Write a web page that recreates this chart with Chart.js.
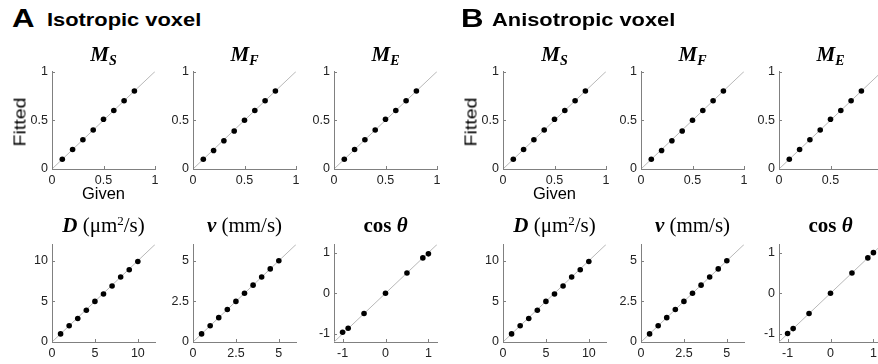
<!DOCTYPE html>
<html>
<head>
<meta charset="utf-8">
<script src="https://cdn.jsdelivr.net/npm/chart.js@4"></script>
<style>
  html, body { margin: 0; padding: 0; background: #fff; overflow: hidden; }
  #page { position: relative; width: 878px; height: 364px; }
  canvas { position: absolute; }
  .lbl { position: absolute; white-space: nowrap; line-height: 1; color: #000; }
  .panel { font-family: "Liberation Sans", Arial, sans-serif; font-weight: bold; transform-origin: 0 50%; }
  .ttl { font-family: "Liberation Serif", "Times New Roman", serif; font-size: 21px; text-align: center; }
  .ttl sub { font-size: 14px; vertical-align: -0.3em; line-height: 0; font-style: italic; font-weight: bold; }
  .ttl sup { font-size: 13px; vertical-align: 0.55em; line-height: 0; }
  .ax { font-family: "Liberation Sans", Arial, sans-serif; font-size: 16.5px; }
</style>
</head>
<body>
<div id="page"></div>
<script>
document.addEventListener('DOMContentLoaded', () => {

  // ------------------------------
  // DATA
  // ------------------------------
  const mGiven = [0.1, 0.2, 0.3, 0.4, 0.5, 0.6, 0.7, 0.8];
  const msFitA = [0.1, 0.2, 0.3, 0.4, 0.51, 0.6, 0.7, 0.8];
  const mfFitA = [0.1, 0.19, 0.29, 0.39, 0.5, 0.6, 0.7, 0.8];
  const meFitA = [0.1, 0.2, 0.3, 0.4, 0.51, 0.6, 0.7, 0.8];
  const msFitB = [0.1, 0.2, 0.3, 0.4, 0.51, 0.6, 0.7, 0.8];
  const mfFitB = [0.1, 0.19, 0.29, 0.39, 0.5, 0.6, 0.7, 0.8];
  const meFitB = [0.1, 0.2, 0.3, 0.4, 0.51, 0.6, 0.7, 0.8];

  const dGiven = [1, 2, 3, 4, 5, 6, 7, 8, 9, 10];
  const dFitA = [1, 2, 2.9, 3.9, 5, 5.9, 6.9, 8, 8.9, 9.9];
  const dFitB = [1, 2, 2.9, 3.9, 5, 5.9, 6.9, 8, 8.9, 9.9];

  const vGiven = [0.5, 1, 1.5, 2, 2.5, 3, 3.5, 4, 4.5, 5];
  const vFitA = [0.5, 1, 1.5, 2, 2.5, 3, 3.5, 4, 4.5, 5];
  const vFitB = [0.5, 1, 1.5, 2, 2.5, 3, 3.5, 4, 4.5, 5];

  const cosGiven = [-1, -0.87, -0.5, 0, 0.5, 0.87, 1];
  const cosFitA = [-0.96, -0.86, -0.5, 0, 0.5, 0.87, 0.97];
  const cosFitB = [-0.99, -0.87, -0.5, 0, 0.5, 0.87, 1];

  // axis ranges and tick labels
  const mRange = [0, 1], mTicks = [0, 0.5, 1];
  const dRange = [0, 12], dTicks = [0, 5, 10];
  const vRange = [0, 6], vTicks = [0, 2.5, 5];
  const cosRange = [-1.2, 1.2], cosTicks = [-1, 0, 1];

  // ------------------------------
  // LAYOUT
  // ------------------------------
  const page = document.getElementById('page');
  const PW = 103, PH = 101;          // plot area size
  const YW = 40, XH = 22, PT = 8, PR = 14;
  const colsA = [52, 193, 334];
  const colsB = [503, 641, 779];
  const rowTop = [68, 241];

  function addLabel(html, cls, style) {
    const el = document.createElement('div');
    el.className = 'lbl ' + cls;
    el.innerHTML = html;
    Object.assign(el.style, style);
    page.appendChild(el);
    return el;
  }

  // inward tick marks, like the original figure
  const innerTicks = {
    id: 'innerTicks',
    afterDraw(chart) {
      const {ctx, chartArea, scales} = chart;
      ctx.save();
      ctx.strokeStyle = '#808080';
      ctx.lineWidth = 1;
      ctx.beginPath();
      scales.x.ticks.forEach(t => {
        const px = Math.round(scales.x.getPixelForValue(t.value)) + 0.5;
        ctx.moveTo(px, chartArea.bottom);
        ctx.lineTo(px, chartArea.bottom - 3);
      });
      scales.y.ticks.forEach(t => {
        const py = Math.round(scales.y.getPixelForValue(t.value)) + 0.5;
        ctx.moveTo(chartArea.left, py);
        ctx.lineTo(chartArea.left + 3, py);
      });
      ctx.stroke();
      ctx.restore();
    }
  };

  function axis(range, ticks, fit) {
    return {
      type: 'linear',
      min: range[0],
      max: range[1],
      grid: { display: true, drawOnChartArea: false, drawTicks: false },
      border: { color: '#808080', width: 1 },
      ticks: {
        color: '#222',
        font: { family: '"Liberation Sans", Arial, sans-serif', size: 12.5 },
        padding: 4,
        maxRotation: 0,
        autoSkip: false,
        callback: v => String(v)
      },
      afterBuildTicks: s => { s.ticks = ticks.map(v => ({ value: v })); },
      afterFit: fit
    };
  }

  function makePlot(left, top, given, fitted, range, ticks) {
    const cv = document.createElement('canvas');
    cv.width = YW + PW + PR;
    cv.height = PT + PH + XH;
    cv.style.left = (left - YW) + 'px';
    cv.style.top = (top - PT) + 'px';
    page.appendChild(cv);

    const pts = given.map((g, i) => ({ x: g, y: fitted[i] }));
    new Chart(cv.getContext('2d'), {
      type: 'scatter',
      data: {
        datasets: [
          {
            label: 'Estimates',
            data: pts,
            backgroundColor: '#000',
            borderWidth: 0,
            pointRadius: 2.8,
            order: 0
          },
          {
            type: 'line',
            label: 'Identity',
            data: [{ x: range[0], y: range[0] }, { x: range[1], y: range[1] }],
            borderColor: '#b8b8b8',
            borderWidth: 1,
            pointRadius: 0,
            order: 1
          }
        ]
      },
      options: {
        responsive: false,
        animation: false,
        devicePixelRatio: 1,
        layout: { padding: { top: PT, right: PR, left: 0, bottom: 0 } },
        plugins: { legend: { display: false }, tooltip: { enabled: false } },
        scales: {
          x: axis(range, ticks, s => { s.height = XH; }),
          y: axis(range, ticks, s => { s.width = YW; })
        }
      },
      plugins: [innerTicks]
    });
  }

  // ------------------------------
  // PANELS
  // ------------------------------
  const panels = [
    { cols: colsA, letter: 'A', name: 'Isotropic voxel', letterX: 12, nameX: 47,
      m: [msFitA, mfFitA, meFitA], d: dFitA, v: vFitA, c: cosFitA },
    { cols: colsB, letter: 'B', name: 'Anisotropic voxel', letterX: 461, nameX: 492,
      m: [msFitB, mfFitB, meFitB], d: dFitB, v: vFitB, c: cosFitB }
  ];

  const mTitles = [
    '<i><b>M</b></i><sub>S</sub>',
    '<i><b>M</b></i><sub>F</sub>',
    '<i><b>M</b></i><sub>E</sub>'
  ];
  const bottomTitles = [
    '<i><b>D</b></i> (&mu;m<sup>2</sup>/s)',
    '<i><b>v</b></i> (mm/s)',
    '<b>cos <i>&theta;</i></b>'
  ];

  panels.forEach(p => {
    addLabel(p.letter, 'panel', { left: p.letterX + 'px', top: '5px', fontSize: '26px', transform: 'scaleX(1.2)' });
    addLabel(p.name, 'panel', { left: p.nameX + 'px', top: '10px', fontSize: '19px', transform: 'scaleX(1.15)' });

    // top row: M fractions
    p.cols.forEach((cx, i) => {
      makePlot(cx, rowTop[0], mGiven, p.m[i], mRange, mTicks);
      addLabel(mTitles[i], 'ttl', { left: cx + 'px', width: PW + 'px', top: (rowTop[0] - 24) + 'px' });
    });

    // bottom row: D, v, cos theta
    makePlot(p.cols[0], rowTop[1], dGiven, p.d, dRange, dTicks);
    makePlot(p.cols[1], rowTop[1], vGiven, p.v, vRange, vTicks);
    makePlot(p.cols[2], rowTop[1], cosGiven, p.c, cosRange, cosTicks);
    p.cols.forEach((cx, i) => {
      addLabel(bottomTitles[i], 'ttl', { left: cx + 'px', width: PW + 'px', top: (rowTop[1] - 26) + 'px' });
    });

    // axis names on the first plot
    addLabel('Fitted', 'ax', {
      left: (p.cols[0] - 32) + 'px', top: '122px', fontSize: '17px',
      transform: 'translate(-50%, -50%) rotate(-90deg) scaleX(1.15)'
    });
    addLabel('Given', 'ax', {
      left: (p.cols[0] + PW / 2) + 'px', top: '185px',
      transform: 'translateX(-50%)'
    });
  });

});
</script>
</body>
</html>
